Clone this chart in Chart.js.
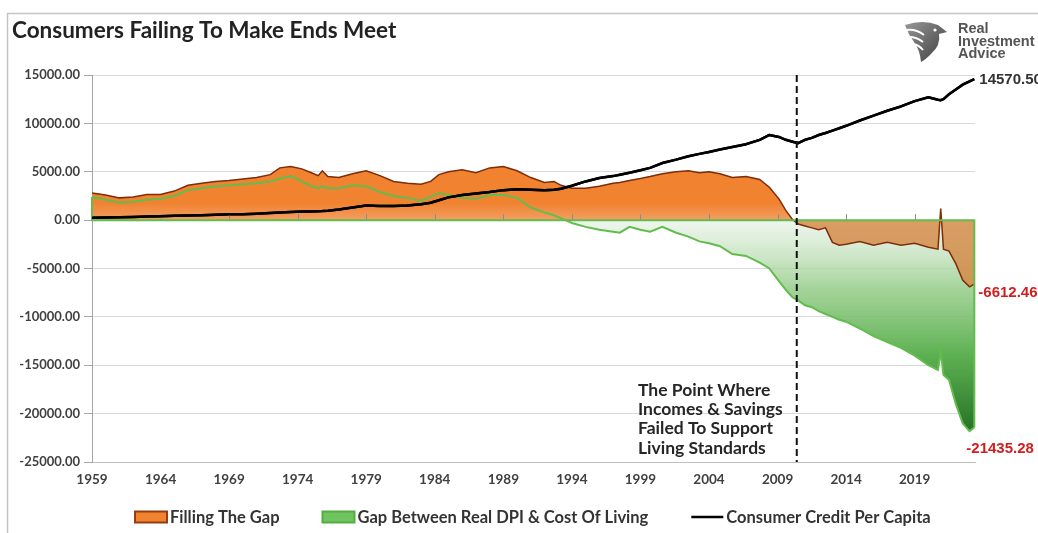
<!DOCTYPE html>
<html><head><meta charset="utf-8">
<script src="https://cdn.jsdelivr.net/npm/chart.js@4.4.0/dist/chart.umd.min.js"></script>
<style>html,body{margin:0;padding:0;background:#fff;}canvas{display:block;}</style>
</head><body>
<canvas id="c" width="1038" height="533" style="width:1038px;height:533px"></canvas>
<script>
// ---------------- DATA ----------------
const titleText = 'Consumers Failing To Make Ends Meet';
const logoLines = ['Real', 'Investment', 'Advice'];
const seriesNames = ['Filling The Gap', 'Gap Between Real DPI & Cost Of Living', 'Consumer Credit Per Capita'];
const annotationLines = ['The Point Where', 'Incomes & Savings', 'Failed To Support', 'Living Standards'];
const pointWhereYear = 2010.4;
const xTickYears = [1959, 1964, 1969, 1974, 1979, 1984, 1989, 1994, 1999, 2004, 2009, 2014, 2019];
const xRange = [1959, 2023.4];
const yRange = [-25000, 15000];
const yStep = 5000;

const years = [1959,1960,1961,1962,1963,1964,1965,1966,1967,1968,1969,1970,1971,1972,1972.7,1973.5,1974.3,1975,1975.5,1975.8,
  1976.2,1977,1978,1979,1980,1981,1982,1983,1983.7,1984.3,1985,1986,1987,1988,1989,1990,1991,1992,1992.7,1993.2,
  1994,1995,1996,1997,1997.5,1998.2,1999,1999.7,2000.6,2001.6,2002.5,2003.3,2004,2004.8,2005.7,2006.7,2007.7,2008.4,2009.1,2009.6,
  2010.1,2010.5,2011,2011.5,2012,2012.5,2013,2013.5,2014,2015,2016,2017,2018,2019,2020,2020.7,2020.9,2021.1,2021.5,2022,
  2022.5,2023,2023.35];

const fillingTheGap = [2800,2600,2300,2400,2650,2650,3000,3600,3800,4000,4100,4250,4400,4700,5400,5550,5300,4900,4600,5100,
  4500,4400,4800,5100,4600,4000,3800,3700,4000,4700,5000,5200,4900,5400,5550,5100,4400,3900,4000,3600,
  3300,3300,3500,3800,3900,4100,4300,4500,4800,5000,5100,4900,5000,4800,4400,4500,4200,3400,2200,1000,
  50,-400,-600,-800,-1000,-800,-2300,-2600,-2500,-2200,-2600,-2300,-2600,-2400,-2800,-3000,1200,-3000,-3200,-4500,
  -6200,-6900,-6612.46];

const gapRealDpiCostOfLiving = [2400,2100,1800,1900,2100,2200,2500,3100,3300,3500,3600,3700,3800,4000,4300,4550,4000,3500,3300,3500,
  3300,3300,3600,3500,2900,2500,2300,2000,2400,2800,2600,2300,2200,2600,2600,2300,1300,800,500,200,
  -300,-700,-1000,-1200,-1300,-700,-1000,-1200,-700,-1300,-1700,-2200,-2400,-2700,-3500,-3700,-4400,-5000,-6300,-7200,
  -8000,-8300,-8800,-9000,-9400,-9700,-10000,-10300,-10500,-11200,-12000,-12600,-13200,-14000,-15000,-15500,-13500,-16000,-16500,-19000,
  -21000,-21800,-21435.28];

const consumerCreditPerCapita = [250,280,300,330,370,410,450,480,500,550,600,620,660,730,790,850,880,900,920,940,
  980,1100,1300,1500,1450,1450,1500,1650,1800,2050,2350,2600,2750,2900,3100,3200,3150,3100,3150,3250,
  3550,4000,4350,4550,4700,4900,5150,5400,5900,6250,6600,6850,7050,7300,7550,7850,8300,8800,8600,8300,
  8100,7950,8300,8500,8800,9000,9250,9500,9750,10300,10800,11300,11750,12300,12700,12450,12400,12500,13000,13500,
  14000,14350,14570.50];

const endLabels = ['14570.50', '-6612.46', '-21435.28'];

// ---------------- STYLE ----------------
const FONT = 'Lato, "Open Sans", sans-serif';
const toPts = arr => years.map((x, i) => ({x, y: arr[i]}));

function orangeFill(ctx) {
  const chart = ctx.chart;
  if (!chart.chartArea) return 'rgb(240,130,48)';
  const y = chart.scales.y;
  const hi = 6000, lo = -8000;
  const g = chart.ctx.createLinearGradient(0, y.getPixelForValue(hi), 0, y.getPixelForValue(lo));
  const f = v => (hi - v) / (hi - lo);
  g.addColorStop(0, 'rgb(240,130,48)');
  g.addColorStop(f(1800), 'rgb(240,130,48)');
  g.addColorStop(f(1), 'rgb(243,158,98)');
  g.addColorStop(f(-1), 'rgba(212,135,66,0.8)');
  g.addColorStop(1, 'rgba(212,135,66,0.8)');
  return g;
}
function greenFill(ctx) {
  const chart = ctx.chart;
  if (!chart.chartArea) return 'rgba(100,190,80,0.5)';
  const y = chart.scales.y;
  const hi = 3000, lo = -22000;
  const g = chart.ctx.createLinearGradient(0, y.getPixelForValue(hi), 0, y.getPixelForValue(lo));
  const f = v => (hi - v) / (hi - lo);
  g.addColorStop(0, 'rgba(255,255,255,0)');
  g.addColorStop(f(0), 'rgba(228,240,226,0.6)');
  g.addColorStop(f(-7000), 'rgba(150,205,138,0.85)');
  g.addColorStop(f(-14000), 'rgba(84,172,72,0.95)');
  g.addColorStop(1, 'rgb(38,112,38)');
  return g;
}

const decorPlugin = {
  id: 'decor',
  beforeDraw(chart) {
    const c = chart.ctx;
    c.save();
    c.strokeStyle = '#c4c4c4'; c.lineWidth = 1.5;
    c.beginPath(); c.moveTo(7.5, 540); c.lineTo(7.5, 13.5); c.lineTo(1040, 13.5); c.stroke();
    c.restore();
  },
  afterDatasetsDraw(chart) {
    const c = chart.ctx, x = chart.scales.x, y = chart.scales.y, ca = chart.chartArea;
    const y0 = y.getPixelForValue(0);
    c.save();
    c.strokeStyle = '#8c8c8c'; c.lineWidth = 1;
    xTickYears.forEach(v => { const px = Math.round(x.getPixelForValue(v)) + 0.5; c.beginPath(); c.moveTo(px, y0); c.lineTo(px, y0 - 6); c.stroke(); });
    c.strokeStyle = 'rgb(98,188,78)'; c.lineWidth = 2;
    const xl = x.getPixelForValue(years[0]), xr = x.getPixelForValue(years[years.length - 1]);
    c.beginPath();
    c.moveTo(xl, y.getPixelForValue(gapRealDpiCostOfLiving[0])); c.lineTo(xl, y0); c.lineTo(xr, y0);
    c.lineTo(xr, y.getPixelForValue(gapRealDpiCostOfLiving[gapRealDpiCostOfLiving.length - 1]));
    c.stroke();
    const m = chart.getDatasetMeta(0);
    c.strokeStyle = '#000'; c.lineWidth = 2.5; c.lineJoin = 'round';
    c.beginPath(); m.data.forEach((p, i) => i ? c.lineTo(p.x, p.y) : c.moveTo(p.x, p.y)); c.stroke();
    const vx = x.getPixelForValue(pointWhereYear);
    c.strokeStyle = '#111'; c.lineWidth = 2; c.setLineDash([7, 4]);
    c.beginPath(); c.moveTo(vx, ca.top); c.lineTo(vx, ca.bottom); c.stroke();
    c.setLineDash([]);
    c.restore();
  },
  afterDraw(chart) {
    const c = chart.ctx;
    c.save();
    c.fillStyle = '#222'; c.font = 'bold 22.5px ' + FONT; c.textBaseline = 'middle'; c.textAlign = 'left';
    c.fillText(titleText, 12, 31);
    c.fillStyle = '#555'; c.font = 'bold 14.5px "Liberation Sans", Arial, sans-serif';
    logoLines.forEach((t, i) => c.fillText(t, 958, 29 + i * 12.5));
    c.translate(905, 20);
    const g = c.createLinearGradient(0, 0, 42, 42); g.addColorStop(0, '#9a9a9a'); g.addColorStop(1, '#3c3c3c');
    c.fillStyle = g;
    c.beginPath();
    c.moveTo(0, 5); c.quadraticCurveTo(18, -1, 33, 5); c.lineTo(42, 12); c.lineTo(34, 14);
    c.quadraticCurveTo(36, 25, 26, 34); c.quadraticCurveTo(20, 40, 16, 42);
    c.quadraticCurveTo(15, 30, 9, 22); c.quadraticCurveTo(3, 14, 0, 5); c.closePath(); c.fill();
    c.strokeStyle = '#fff'; c.lineWidth = 2;
    [[2, 10, 11, 9, 19, 15], [4, 17, 12, 17, 18, 22], [8, 24, 14, 25, 18, 30]].forEach(s => { c.beginPath(); c.moveTo(s[0], s[1]); c.quadraticCurveTo(s[2], s[3], s[4], s[5]); c.stroke(); });
    c.fillStyle = '#fff'; c.beginPath(); c.arc(30, 10, 1.6, 0, Math.PI * 2); c.fill();
    c.setTransform(1, 0, 0, 1, 0, 0);
    c.fillStyle = '#262626'; c.font = 'bold 17.5px ' + FONT; c.textBaseline = 'middle';
    annotationLines.forEach((t, i) => c.fillText(t, 638, 390 + i * 19.3));
    c.font = 'bold 15px "Liberation Sans", Arial, sans-serif';
    const offs = [[5, 1, '#333'], [4, 9, 'rgb(210,30,30)'], [-8, 21, 'rgb(210,30,30)']];
    [0, 1, 2].forEach(di => {
      const m = chart.getDatasetMeta(di); const p = m.data[m.data.length - 1];
      c.fillStyle = offs[di][2]; c.fillText(endLabels[di], p.x + offs[di][0], p.y + offs[di][1]);
    });
    const items = [
      {type: 'box', fill: 'rgb(240,130,48)', stroke: 'rgb(150,60,15)', text: seriesNames[0]},
      {type: 'box', fill: 'rgb(112,196,96)', stroke: 'rgb(84,172,64)', text: seriesNames[1]},
      {type: 'line', stroke: '#000', text: seriesNames[2]}
    ];
    c.font = 'bold 16.5px ' + FONT;
    let lx = 135; const ly = 517;
    items.forEach(it => {
      if (it.type === 'box') {
        c.fillStyle = it.fill; c.fillRect(lx, ly - 5.5, 32, 11);
        c.strokeStyle = it.stroke; c.lineWidth = 2; c.strokeRect(lx, ly - 5.5, 32, 11);
      } else {
        c.strokeStyle = it.stroke; c.lineWidth = 2.5; c.beginPath(); c.moveTo(lx, ly); c.lineTo(lx + 32, ly); c.stroke();
      }
      c.fillStyle = '#333'; c.fillText(it.text, lx + 35, ly + 1);
      lx += 35 + c.measureText(it.text).width + 43;
    });
    c.restore();
  }
};

new Chart(document.getElementById('c'), {
  type: 'line',
  data: {
    datasets: [
      {label: seriesNames[2], data: toPts(consumerCreditPerCapita), borderColor: '#000', borderWidth: 2.5, fill: false, pointRadius: 0, tension: 0},
      {label: seriesNames[0], data: toPts(fillingTheGap), borderColor: 'rgb(125,45,10)', borderWidth: 1.5, backgroundColor: orangeFill, fill: 'origin', pointRadius: 0, tension: 0},
      {label: seriesNames[1], data: toPts(gapRealDpiCostOfLiving), borderColor: 'rgb(98,188,78)', borderWidth: 2, backgroundColor: greenFill, fill: 'origin', pointRadius: 0, tension: 0}
    ]
  },
  options: {
    responsive: false, animation: false, devicePixelRatio: 1, events: [],
    layout: {padding: {left: 12, right: 63, top: 75, bottom: 31}},
    plugins: {legend: {display: false}, tooltip: {enabled: false}, filler: {drawTime: 'beforeDatasetsDraw'}},
    scales: {
      x: {
        type: 'linear', min: xRange[0], max: xRange[1],
        afterBuildTicks: s => { s.ticks = xTickYears.map(v => ({value: v})); },
        afterFit: s => { s.height = 40; },
        grid: {display: false, drawTicks: false},
        border: {display: true, color: '#bfbfbf'},
        ticks: {callback: v => String(v), autoSkip: false, maxRotation: 0, padding: 10, color: '#404040', font: {family: FONT, size: 13.5, weight: 'bold'}}
      },
      y: {
        min: yRange[0], max: yRange[1],
        afterFit: s => { s.width = 80; },
        grid: {color: '#d9d9d9', tickColor: '#a6a6a6', tickLength: 8},
        border: {display: true, color: '#a6a6a6'},
        ticks: {stepSize: yStep, callback: v => v.toFixed(2), padding: 4, color: '#404040', font: {family: FONT, size: 13, weight: 'bold'}}
      }
    }
  },
  plugins: [decorPlugin]
});
</script>
</body></html>
